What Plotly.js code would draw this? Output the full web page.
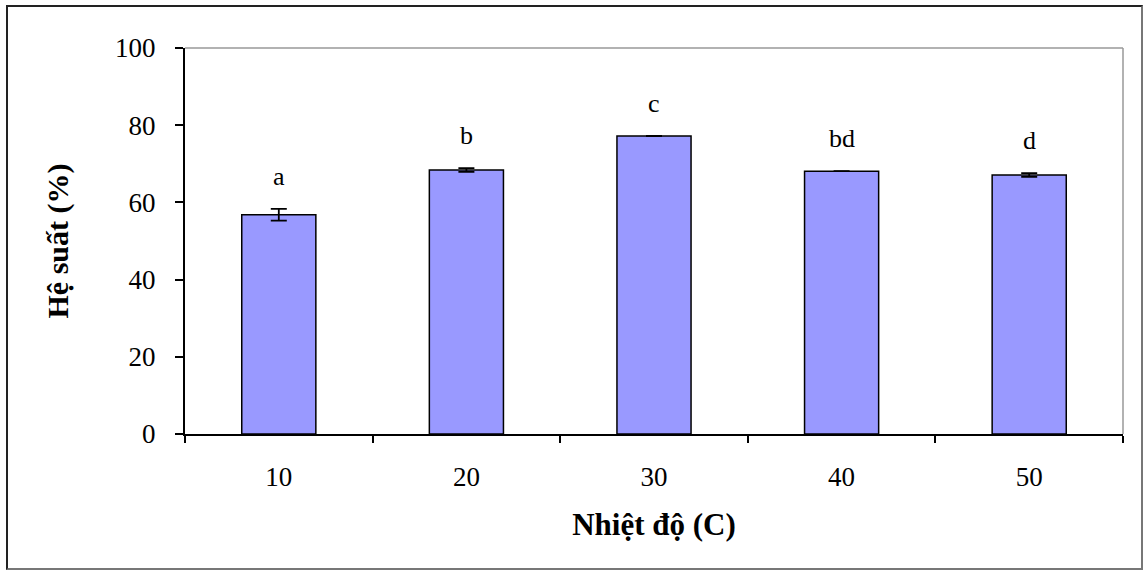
<!DOCTYPE html>
<html>
<head>
<meta charset="utf-8">
<script src="https://cdn.plot.ly/plotly-3.0.1.min.js"></script>
<style>
  html, body { margin: 0; padding: 0; background: #fff; }
  #chart { position: absolute; left: 0; top: 0; width: 1144px; height: 570px; }
  #frame { position: absolute; left: 6px; top: 5px; width: 1133px; height: 561px;
           border: 2px solid #222; border-right-color: #777; border-bottom-color: #777; pointer-events: none; }
</style>
</head>
<body>
<div id="chart"></div>
<div id="frame"></div>
<script>
// Data
const temperatures = ['10', '20', '30', '40', '50'];
const yieldPct = [56.8, 68.4, 77.2, 68.1, 67.1];
const yieldErr = [1.5, 0.5, 0, 0, 0.5];
const letters = ['a', 'b', 'c', 'bd', 'd'];

const serif = 'Liberation Serif, Times New Roman, serif';

const trace = {
  type: 'bar',
  x: temperatures,
  y: yieldPct,
  marker: { color: '#9999FF', line: { color: '#000', width: 1.5 } },
  error_y: { type: 'data', array: yieldErr, visible: true, color: '#000', thickness: 1.8, width: 8 },
  hoverinfo: 'x+y'
};

// annotations placed by category index so they sit on the category axis
const annotations = temperatures.map((t, i) => ({
  x: i, y: yieldPct[i] + yieldErr[i], xref: 'x', yref: 'y',
  text: letters[i], showarrow: false, yanchor: 'bottom', yshift: 16,
  font: { family: serif, size: 26, color: '#000' }
}));

const layout = {
  width: 1144, height: 570,
  margin: { l: 185, r: 21, t: 48, b: 136 },
  paper_bgcolor: 'rgba(0,0,0,0)',
  plot_bgcolor: '#fff',
  showlegend: false,
  bargap: 0.605,
  font: { family: serif, color: '#000' },
  xaxis: {
    type: 'category',
    range: [-0.5, 4.5],
    showline: true, linecolor: '#000', linewidth: 2,
    ticks: 'outside', tickson: 'boundaries', ticklen: 7, tickwidth: 2, tickcolor: '#000',
    ticklabelstandoff: 18, tickangle: 0,
    tickfont: { family: serif, size: 27, color: '#000' },
    showgrid: false, zeroline: false,
    title: { text: '<b>Nhiệt độ (C)</b>', font: { family: serif, size: 31, color: '#000' }, standoff: 22 }
  },
  yaxis: {
    range: [0, 100], dtick: 20,
    showline: true, linecolor: '#000', linewidth: 2,
    ticks: 'outside', ticklen: 8, tickwidth: 2, tickcolor: '#000',
    ticklabelstandoff: 14,
    tickfont: { family: serif, size: 27, color: '#000' },
    showgrid: false, zeroline: false,
    title: { text: '<b>Hệ suất (%)</b>', font: { family: serif, size: 30, color: '#000' }, standoff: 38 }
  },
  shapes: [
    { type: 'line', xref: 'paper', yref: 'paper', x0: 0, x1: 1, y0: 1, y1: 1, line: { color: '#999', width: 1.5 } },
    { type: 'line', xref: 'paper', yref: 'paper', x0: 1, x1: 1, y0: 0, y1: 1, line: { color: '#999', width: 1.5 } }
  ],
  annotations: annotations
};

Plotly.newPlot('chart', [trace], layout, { displayModeBar: false, staticPlot: true });
</script>
</body>
</html>
